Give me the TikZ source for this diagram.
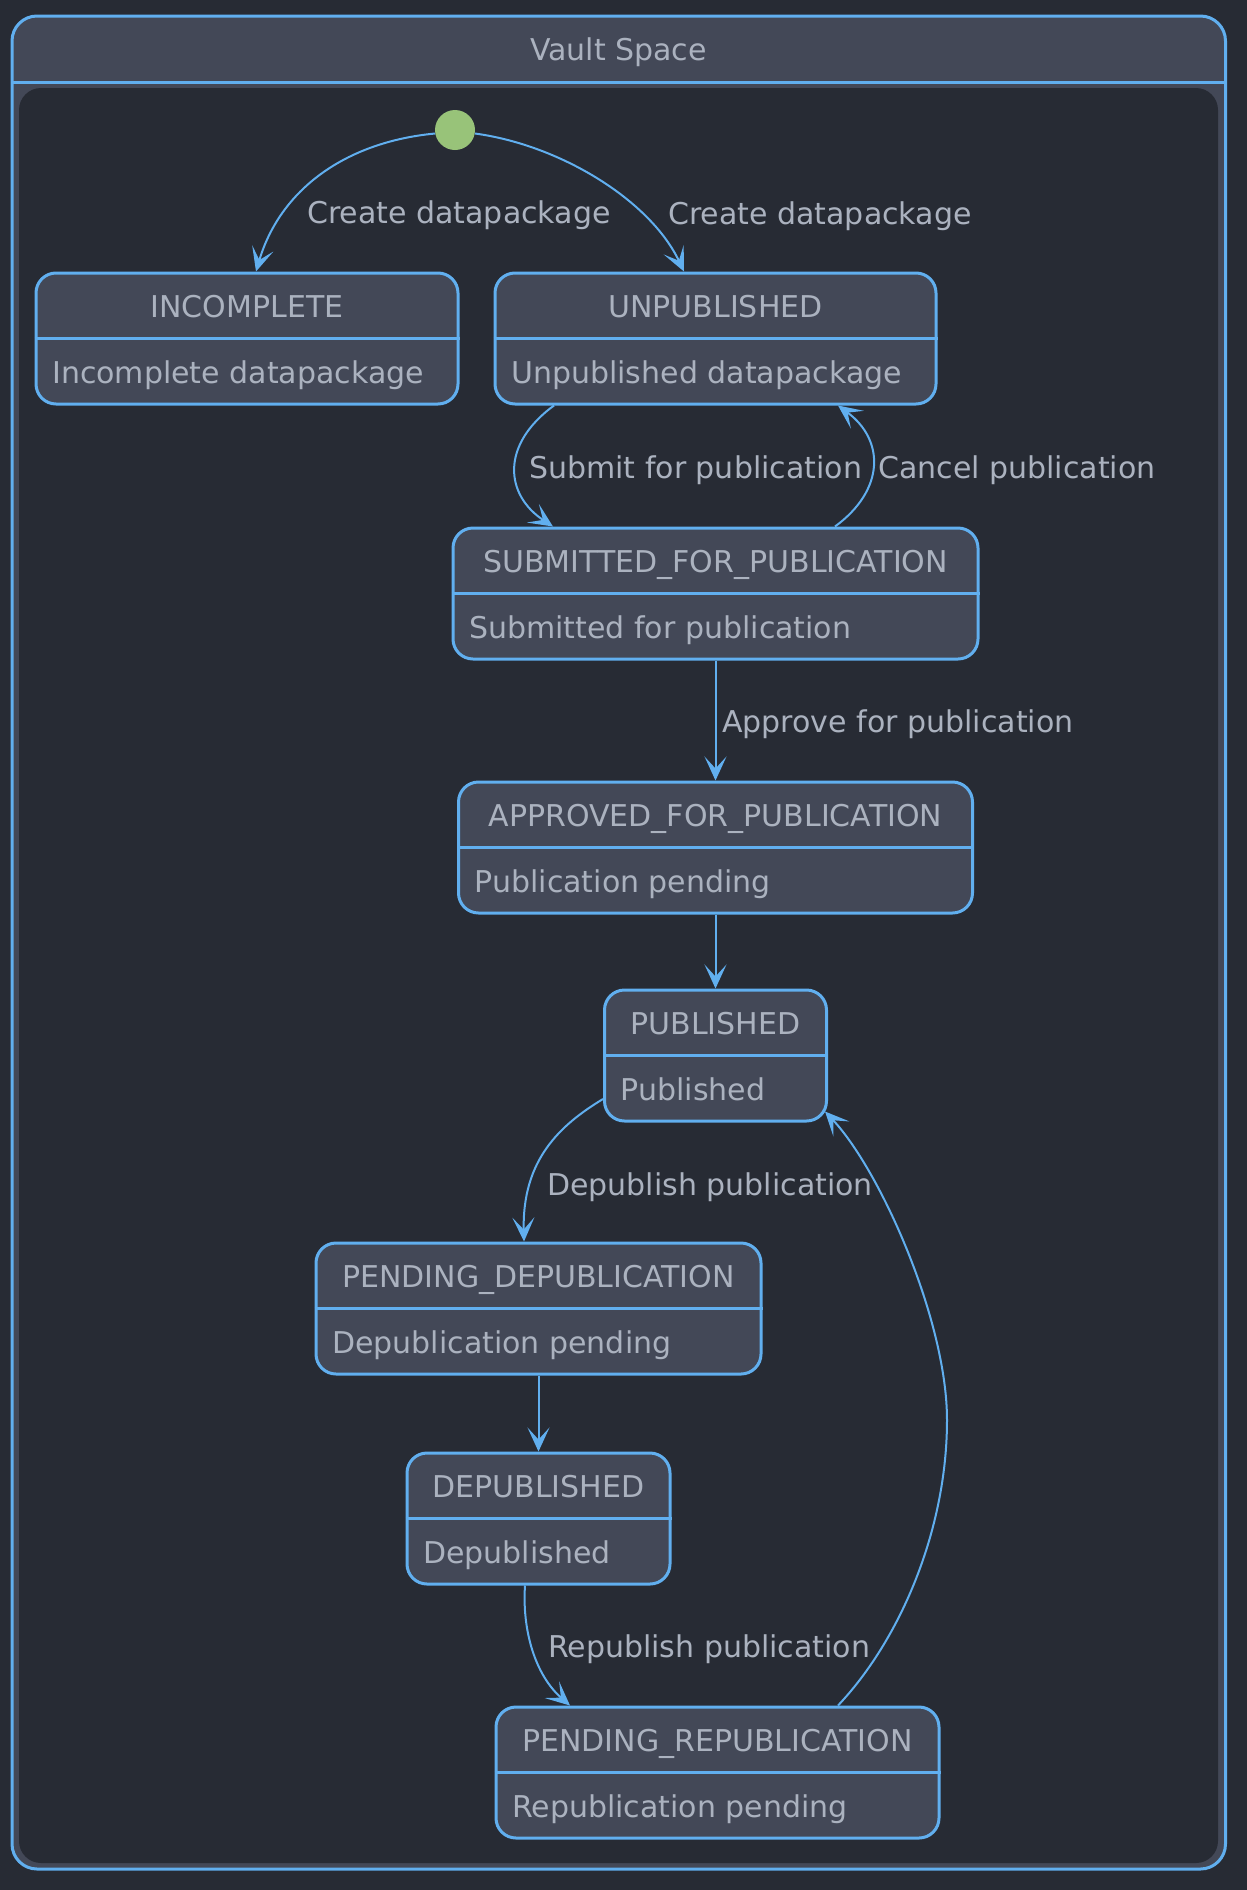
\documentclass[tikz,border=0pt]{standalone}
\usepackage{fontspec}
\setmainfont{DejaVu Sans}
\usetikzlibrary{arrows.meta}
\definecolor{bgc}{HTML}{272B34}
\definecolor{boxc}{HTML}{434857}
\definecolor{bluec}{HTML}{61AFEF}
\definecolor{txtc}{HTML}{ABB2BF}
\definecolor{greenc}{HTML}{98C379}
\newcommand\statebx[6]{% name, cx, top, width, header, body
  \node[statebox, minimum width=#4pt] (#1) at (#2, #3+65.5) {};
  \draw[divider] (#1.west) -- (#1.east);
  \node[hdr] (#1-h) at (#2, #3+44) {#5};
  \node[body] (#1-b) at (#2-#4/2+16, #3+110) {#6};
}
\begin{document}
\begin{tikzpicture}[x=1pt,y=-1pt,
  every node/.style={font=\fontsize{30pt}{36pt}\selectfont, text=txtc, inner sep=0pt},
  statebox/.style={draw=bluec, line width=3pt, fill=boxc, rounded corners=20pt, minimum height=131pt},
  divider/.style={draw=bluec, line width=3pt},
  trans/.style={draw=bluec, line width=2pt, -{Stealth[length=24pt,width=22pt,inset=12pt]}},
  lbl/.style={anchor=base west},
  hdr/.style={anchor=base},
  body/.style={anchor=base west},
]
\fill[bgc] (0,0) rectangle (1247,1890);
\useasboundingbox (0,0) rectangle (1247,1890);
% container
\path[fill=boxc, rounded corners=25pt] (12,16) rectangle (1225.5,1869);
\path[fill=bgc, rounded corners=22pt] (19,88) rectangle (1218,1863);
\draw[bluec, line width=3pt, rounded corners=25pt] (12,16) rectangle (1225.5,1869);
\draw[bluec, line width=3pt] (12,82) -- (1225.5,82);
\node[anchor=base] (title) at (618.5,60) {Vault Space};

% initial state
\node[circle, fill=greenc, minimum size=40pt] (init) at (455,130) {};

% states
\statebx{inc}{247}{273}{422}{INCOMPLETE}{Incomplete datapackage}
\statebx{unp}{715.5}{273}{441}{UNPUBLISHED}{Unpublished datapackage}
\statebx{sub}{715.5}{528}{525}{SUBMITTED\_FOR\_PUBLICATION}{Submitted for publication}
\statebx{app}{715.5}{782}{514}{APPROVED\_FOR\_PUBLICATION}{Publication pending}
\statebx{pub}{715.5}{990}{222}{PUBLISHED}{Published}
\statebx{pd}{538.5}{1243}{445}{PENDING\_DEPUBLICATION}{Depublication pending}
\statebx{dep}{538.5}{1453}{263}{DEPUBLISHED}{Depublished}
\statebx{pr}{717.5}{1707}{443}{PENDING\_REPUBLICATION}{Republication pending}

% transitions
\draw[trans] (init.190) .. controls (345,142) and (280,190) .. ([xshift=9pt]inc.north);
\draw[trans] (init.350) .. controls (560,145) and (650,200) .. ([xshift=-31.5pt]unp.north);
\draw[trans] ([xshift=-161.5pt]unp.south) .. controls (500,445) and (505,495) .. ([xshift=-162.5pt]sub.north);
\draw[trans] ([xshift=119.5pt]sub.north) .. controls (885,490) and (885,440) .. ([xshift=122.5pt]unp.south);
\draw[trans] (sub.south) -- (app.north);
\draw[trans] (app.south) -- (pub.north);
\draw[trans] ([yshift=-43.5pt]pub.west) .. controls (560,1125) and (522,1160) .. ([xshift=-14.5pt]pd.north);
\draw[trans] (pd.south) -- (dep.north);
\draw[trans] ([xshift=-13.5pt]dep.south) .. controls (522,1630) and (535,1675) .. ([xshift=-147.5pt]pr.north);
\draw[trans] ([xshift=120.5pt]pr.north) .. controls (900,1640) and (947,1530) .. (947,1420)
  .. controls (947,1320) and (880,1170) .. ([xshift=-3pt,yshift=-56pt]pub.east);

% labels
\node[lbl] (l1) at (307,223) {Create datapackage};
\node[lbl] (l2) at (668,224) {Create datapackage};
\node[lbl] (l3) at (529,478) {Submit for publication};
\node[lbl] (l4) at (878,478) {Cancel publication};
\node[lbl] (l5) at (722,732) {Approve for publication};
\node[lbl] (l6) at (547,1195) {Depublish publication};
\node[lbl] (l7) at (548,1657) {Republish publication};
\end{tikzpicture}
\end{document}
